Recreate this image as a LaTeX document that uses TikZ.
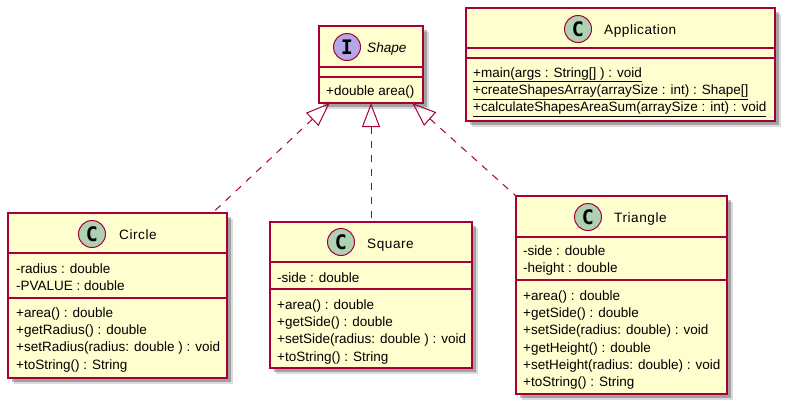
\documentclass[tikz,border=0pt]{standalone}
\usepackage{fontspec}
\setmainfont{Liberation Sans}
\newfontfamily\titlefont[LetterSpace=4]{Liberation Sans}
\newfontfamily\spotfont{DejaVu Sans Mono}
\usetikzlibrary{arrows.meta,shadows}
\definecolor{umlline}{HTML}{A80036}
\definecolor{umlfill}{HTML}{FEFECE}
\definecolor{umlclass}{HTML}{ADD1B2}
\definecolor{umlface}{HTML}{B4A7E5}
\newcommand\members[1]{\strut#1}
\begin{document}
\begin{tikzpicture}[x=1pt,y=-1pt]

\tikzset{umlbox/.style={draw=umlline,fill=umlfill,line width=1.4pt,inner sep=0pt,outer sep=0pt,
    drop shadow={shadow xshift=5.5pt,shadow yshift=-5.5pt,fill=black,draw=none,opacity=.14},
    drop shadow={shadow xshift=3.5pt,shadow yshift=-3.5pt,fill=black,draw=none,opacity=.26}}}
\tikzset{spot/.style={circle,draw=umlline,line width=1pt,minimum size=27pt,inner sep=0pt,
    font=\spotfont\bfseries\fontsize{20}{20}\selectfont}}
\tikzset{title/.style={anchor=base west,inner sep=0pt,font=\titlefont\fontsize{13.6}{16}\selectfont}}
\tikzset{body/.style={anchor=north west,inner sep=0pt,align=left,font=\fontsize{13.5}{17.3}\selectfont}}
\tikzset{rule/.style={draw=umlline,line width=1.4pt}}
\tikzset{realize/.style={draw=umlline,line width=1pt,dash pattern=on 7pt off 7pt,
    {Triangle[open,length=24pt,width=18pt]}-}}

\useasboundingbox (0,0) rectangle (791,410);

% boxes
\node[umlbox,minimum width=104pt,minimum height=77pt] (shape) at (371,64.5) {};
\node[umlbox,minimum width=309pt,minimum height=113pt] (application) at (620.5,64.5) {};
\node[umlbox,minimum width=219pt,minimum height=165pt] (circle) at (117.5,295.5) {};
\node[umlbox,minimum width=202pt,minimum height=146pt] (square) at (371,295) {};
\node[umlbox,minimum width=211pt,minimum height=198pt] (triangle) at (621.5,295) {};

% compartments
\draw[rule] (shape.west |- 0,67) -- (shape.east |- 0,67);
\draw[rule] (shape.west |- 0,77) -- (shape.east |- 0,77);
\draw[rule] (application.west |- 0,48) -- (application.east |- 0,48);
\draw[rule] (application.west |- 0,58) -- (application.east |- 0,58);
\draw[rule] (circle.west |- 0,253) -- (circle.east |- 0,253);
\draw[rule] (circle.west |- 0,298) -- (circle.east |- 0,298);
\draw[rule] (square.west |- 0,262) -- (square.east |- 0,262);
\draw[rule] (square.west |- 0,289) -- (square.east |- 0,289);
\draw[rule] (triangle.west |- 0,237) -- (triangle.east |- 0,237);
\draw[rule] (triangle.west |- 0,280) -- (triangle.east |- 0,280);

% headers
\node[spot,fill=umlface] (shapespot) at (347,47) {I};
\node[title,font=\itshape\fontsize{13.6}{16}\selectfont] (shapetitle) at (367,52) {Shape};
\node[spot,fill=umlclass] (applicationspot) at (578,29) {C};
\node[title] (applicationtitle) at (604,34) {Application};
\node[spot,fill=umlclass] (circlespot) at (92,234) {C};
\node[title] (circletitle) at (119,239) {Circle};
\node[spot,fill=umlclass] (squarespot) at (341,242) {C};
\node[title] (squaretitle) at (367,248) {Square};
\node[spot,fill=umlclass] (trianglespot) at (588,217) {C};
\node[title] (triangletitle) at (614,222) {Triangle};

% members
\node[body] (shapemethods) at (326,83) {\members{+double area()}};
\node[body] (applicationmethods) at (473,65) {\members{\underline{+main(args : String[] ) : void}}\\
    \underline{+createShapesArray(arraySize : int) : Shape[]}\\
    \underline{+calculateShapesAreaSum(arraySize : int) : void}};
\node[body] (circleattrs) at (16,261) {\members{-radius : double}\\
    -PVALUE : double};
\node[body] (circlemethods) at (16,305) {\members{+area() : double}\\
    +getRadius() : double\\
    +setRadius(radius: double ) : void\\
    +toString() : String};
\node[body] (squareattrs) at (277,270) {\members{-side : double}};
\node[body] (squaremethods) at (277,297) {\members{+area() : double}\\
    +getSide() : double\\
    +setSide(radius: double ) : void\\
    +toString() : String};
\node[body] (triangleattrs) at (523,243) {\members{-side : double}\\
    -height : double};
\node[body] (trianglemethods) at (523,288) {\members{+area() : double}\\
    +getSide() : double\\
    +setSide(radius: double) : void\\
    +getHeight() : double\\
    +setHeight(radius: double) : void\\
    +toString() : String};

% realizations
\draw[realize] (shape.223) -- (circle.41);
\draw[realize] (shape.south) -- (square.north);
\draw[realize] (shape.317.5) -- (triangle.north west);

\end{tikzpicture}
\end{document}
